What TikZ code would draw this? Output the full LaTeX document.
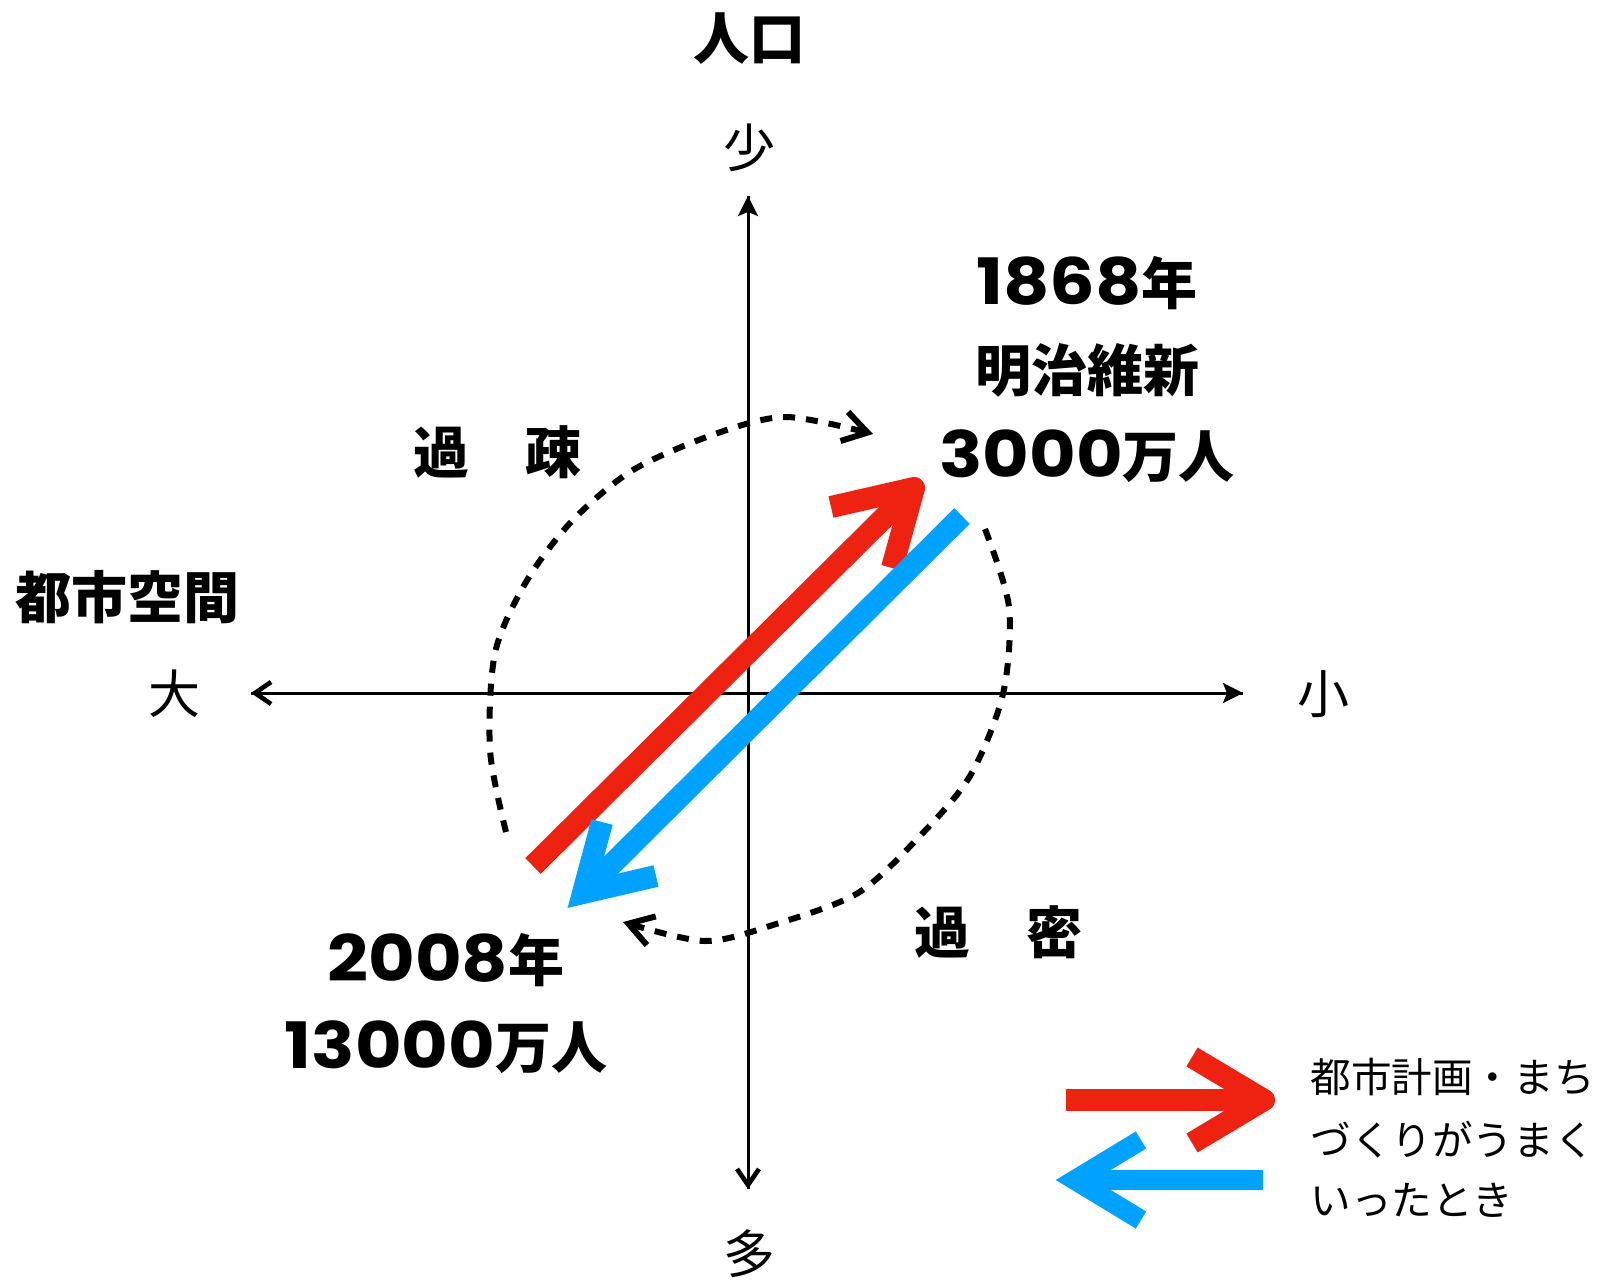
\documentclass[tikz,border=0pt]{standalone}
\usepackage{graphicx}
\usepackage{fontspec}
\newfontfamily\jp{Noto Sans CJK JP}
\newfontfamily\pop{Poppins}
\usetikzlibrary{arrows.meta}
\definecolor{myred}{HTML}{EE2211}
\definecolor{myblue}{HTML}{00A2FF}
\newcommand\dg[1]{\scalebox{1.12}[1]{\pop\bfseries\fontsize{32pt}{34pt}\selectfont #1}}
\begin{document}
\begin{tikzpicture}[x=0.5pt,y=-0.5pt,
  big/.style={font=\jp\bfseries\fontsize{28pt}{34pt}\selectfont, inner sep=0pt},
  axlab/.style={font=\jp\fontsize{26pt}{30pt}\selectfont, inner sep=0pt},
  legtxt/.style={font=\jp\fontsize{20.3pt}{24pt}\selectfont, inner sep=0pt, anchor=west},
  axisline/.style={line width=1.5pt},
  filledtip/.style={-{Stealth[length=10pt,width=10pt,inset=2pt]}},
  opentip/.style={-{Straight Barb[length=8pt,width=11pt,line width=2.3pt]}},
  dashcurve/.style={line width=3pt, dash pattern=on 6pt off 5.5pt,
     -{Straight Barb[length=12pt,width=15pt,line width=3pt]}},
  redarrow/.style={myred, line width=11pt, line join=round},
  bluearrow/.style={myblue, line width=11pt, line join=miter},
]
\useasboundingbox (0,0) rectangle (1601,1285);

% axes
\coordinate (L) at (251,693);
\coordinate (R) at (1243,693);
\coordinate (T) at (748,196);
\coordinate (B) at (748,1189);
\draw[axisline, filledtip] (L) -- (R);
\draw[axisline, opentip] (R) -- (L);
\draw[axisline, filledtip] (B) -- (T);
\draw[axisline, opentip] (T) -- (B);

% axis labels
\node[big] (jinko) at (749,39) {人口};
\node[axlab] (sho) at (749,148) {少};
\node[axlab] (ta) at (749,1254) {多};
\node[axlab] (dai) at (174,694) {大};
\node[axlab] (shou) at (1323,694) {小};
\node[big] (toshi) at (128,597) {都市空間};
\node[big] (kaso) at (497,452) {過　疎};
\node[big] (kamitsu) at (998,932) {過　密};

% year labels
\node[big] (y1868) at (1087,283) {\dg{1868}年};
\node[big] (meiji) at (1087,370) {明治維新};
\node[big] (p1868) at (1087,456) {\dg{3000}万人};
\node[big] (y2008) at (446,960) {\dg{2008}年};
\node[big] (p2008) at (446,1047) {\dg{13000}万人};

% dashed curves
\draw[dashcurve] plot[smooth, tension=0.5] coordinates {(506,832) (490,750) (495,653) (526,582) (572,521) (633,470) (715,434) (786,417) (873,434)};
\draw[dashcurve] plot[smooth, tension=0.5] coordinates {(985,529) (1009,607) (1003,694) (970,776) (919,837) (858,893) (776,924) (705,941) (623,922)};

% big red arrow
\coordinate (rs) at (533,866);
\coordinate (rt) at (914,488);
\coordinate (ra1) at (831,507);
\coordinate (ra2) at (892,568);
\draw[redarrow] (rs) -- (rt);
\draw[redarrow] (ra1) -- (rt) -- (ra2);

% big blue arrow
\coordinate (bs) at (962,516);
\coordinate (bt) at (583,893);
\coordinate (ba1) at (602,822);
\coordinate (ba2) at (656,876);
\draw[bluearrow] (bs) -- (bt);
\draw[bluearrow] (ba1) -- (bt) -- (ba2);

% legend
\coordinate (lrs) at (1066,1100);
\coordinate (lrt) at (1264,1100);
\coordinate (lra1) at (1192,1057);
\coordinate (lra2) at (1192,1143);
\draw[redarrow] (lrs) -- (lrt);
\draw[redarrow] (lra1) -- (lrt) -- (lra2);
\coordinate (lbs) at (1263,1180);
\coordinate (lbt) at (1075,1180);
\coordinate (lba1) at (1141,1140);
\coordinate (lba2) at (1141,1220);
\draw[bluearrow, line width=10pt] (lbs) -- (lbt);
\draw[bluearrow, line width=10pt] (lba1) -- (lbt) -- (lba2);

\node[legtxt] (leg1) at (1310,1077) {都市計画・まち};
\node[legtxt] (leg2) at (1310,1140) {づくりがうまく};
\node[legtxt] (leg3) at (1310,1200) {いったとき};
\end{tikzpicture}
\end{document}
